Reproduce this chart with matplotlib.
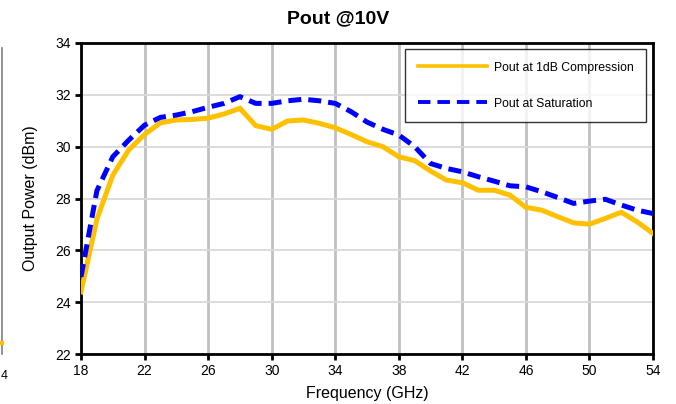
import matplotlib
matplotlib.use("Agg")
import matplotlib.pyplot as plt

plt.rcParams["font.family"] = ["Liberation Sans", "DejaVu Sans"]

freq = list(range(18, 55))
p1db = [24.4, 27.2, 28.9, 29.87, 30.47, 30.92, 31.03, 31.05, 31.1, 31.26,
        31.48, 30.81, 30.67, 30.99, 31.03, 30.9, 30.73, 30.47, 30.19, 30.0,
        29.61, 29.46, 29.06, 28.71, 28.61, 28.32, 28.32, 28.13, 27.66, 27.55,
        27.3, 27.06, 27.01, 27.23, 27.47, 27.1, 26.65]
psat = [24.98, 28.3, 29.61, 30.25, 30.83, 31.13, 31.22, 31.35, 31.52, 31.67,
        31.93, 31.67, 31.67, 31.77, 31.83, 31.77, 31.67, 31.35, 30.95, 30.67,
        30.45, 30.0, 29.35, 29.16, 29.03, 28.84, 28.67, 28.49, 28.45, 28.26,
        28.04, 27.81, 27.9, 27.97, 27.75, 27.55, 27.42]
xticks = list(range(18, 55, 4))
yticks = list(range(22, 35, 2))

fig = plt.figure(figsize=(6.76, 4.04), dpi=100)
ax = fig.add_axes([81 / 676, 1 - 354 / 404, 572 / 676, 311 / 404])

ax.plot(freq, p1db, color="#FFC000", lw=3.6, label="Pout at 1dB Compression",
        solid_joinstyle="miter", zorder=3)
ax.plot(freq, psat, color="#0000FF", lw=3.6, ls=(0, (2.6, 1.4)),
        label="Pout at Saturation", zorder=4)

ax.set_xlim(18, 54)
ax.set_ylim(22, 34)
ax.set_xticks(xticks)
ax.set_yticks(yticks)
ax.grid(axis="x", color="#c0c0c0", lw=2)
ax.grid(axis="y", color="#d9d9d9", lw=1.3)
ax.set_axisbelow(True)
for s in ax.spines.values():
    s.set_linewidth(2)
    s.set_color("black")
ax.tick_params(axis="both", direction="out", length=4, width=2, labelsize=10,
               colors="black")
ax.tick_params(axis="x", pad=3)

ax.set_xlabel("Frequency (GHz)", fontsize=11.5, labelpad=6)
ax.set_ylabel("Output Power (dBm)", fontsize=11.5, labelpad=12)
fig.text(338 / 676, 1 - 19 / 404, "Pout @10V", fontsize=14, fontweight="bold",
         ha="center", va="center")

leg = ax.legend(loc="upper right", bbox_to_anchor=(0.988, 0.981), fontsize=8.8,
                frameon=True, fancybox=False, edgecolor="black",
                handlelength=5.7, labelspacing=1.95, borderpad=1.05,
                handletextpad=0.5, borderaxespad=0)
leg.get_frame().set_linewidth(1.0)
leg_lines = leg.get_lines()
leg_lines[0].set_linewidth(2.6)
leg_lines[1].set_linewidth(2.8)
leg_lines[1].set_linestyle((0, (3.2, 1.8)))

# fragment of the neighbouring chart on the left edge
fig.add_artist(plt.Line2D([1.5 / 676, 1.5 / 676], [1 - 48 / 404, 1 - 354 / 404],
                          color="#808080", lw=1.2))
fig.add_artist(plt.Line2D([0, 2 / 676], [1 - 343 / 404, 1 - 343 / 404],
                          color="#FFC000", lw=3))
fig.text(1 / 676, 1 - 376 / 404, "4", fontsize=9, ha="left", va="center")

fig.savefig("out.png", dpi=100)
